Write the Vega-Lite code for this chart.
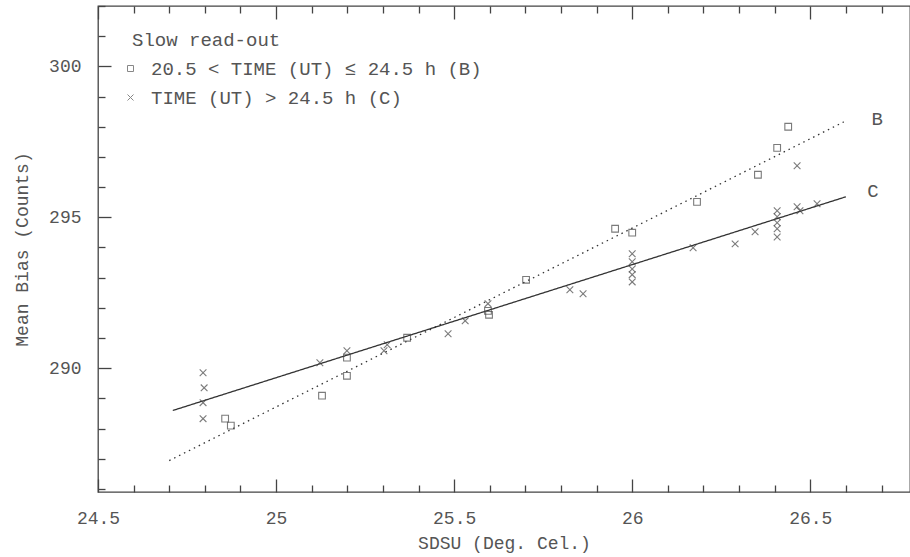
{
  "$schema": "https://vega.github.io/schema/vega-lite/v6.json",
  "width": 812,
  "height": 486,
  "autosize": "none",
  "padding": {"left": 98, "top": 6, "right": 0, "bottom": 65},
  "background": "white",
  "config": {
    "view": {"stroke": "#444", "strokeWidth": 1.3},
    "font": "Liberation Mono",
    "axis": {"labelFont": "Liberation Mono", "titleFont": "Liberation Mono", "labelColor": "#555", "titleColor": "#555", "tickColor": "#444", "tickWidth": 1.3, "grid": false, "domain": false, "titleFontWeight": "normal", "labelOverlap": false}
  },
  "datasets": {
    "pts": [
      {"series": "20.5 < TIME (UT) ≤ 24.5 h (B)", "sdsu": 24.857, "bias": 288.33},
      {"series": "20.5 < TIME (UT) ≤ 24.5 h (B)", "sdsu": 24.873, "bias": 288.10},
      {"series": "20.5 < TIME (UT) ≤ 24.5 h (B)", "sdsu": 25.129, "bias": 289.09},
      {"series": "20.5 < TIME (UT) ≤ 24.5 h (B)", "sdsu": 25.199, "bias": 290.35},
      {"series": "20.5 < TIME (UT) ≤ 24.5 h (B)", "sdsu": 25.199, "bias": 289.75},
      {"series": "20.5 < TIME (UT) ≤ 24.5 h (B)", "sdsu": 25.368, "bias": 291.01},
      {"series": "20.5 < TIME (UT) ≤ 24.5 h (B)", "sdsu": 25.595, "bias": 291.90},
      {"series": "20.5 < TIME (UT) ≤ 24.5 h (B)", "sdsu": 25.598, "bias": 291.77},
      {"series": "20.5 < TIME (UT) ≤ 24.5 h (B)", "sdsu": 25.702, "bias": 292.93},
      {"series": "20.5 < TIME (UT) ≤ 24.5 h (B)", "sdsu": 25.952, "bias": 294.62},
      {"series": "20.5 < TIME (UT) ≤ 24.5 h (B)", "sdsu": 26.0, "bias": 294.49},
      {"series": "20.5 < TIME (UT) ≤ 24.5 h (B)", "sdsu": 26.182, "bias": 295.51},
      {"series": "20.5 < TIME (UT) ≤ 24.5 h (B)", "sdsu": 26.353, "bias": 296.41},
      {"series": "20.5 < TIME (UT) ≤ 24.5 h (B)", "sdsu": 26.407, "bias": 297.30},
      {"series": "20.5 < TIME (UT) ≤ 24.5 h (B)", "sdsu": 26.438, "bias": 298.0},
      {"series": "TIME (UT) > 24.5 h (C)", "sdsu": 24.795, "bias": 289.85},
      {"series": "TIME (UT) > 24.5 h (C)", "sdsu": 24.798, "bias": 289.35},
      {"series": "TIME (UT) > 24.5 h (C)", "sdsu": 24.795, "bias": 288.86},
      {"series": "TIME (UT) > 24.5 h (C)", "sdsu": 24.795, "bias": 288.33},
      {"series": "TIME (UT) > 24.5 h (C)", "sdsu": 25.123, "bias": 290.18},
      {"series": "TIME (UT) > 24.5 h (C)", "sdsu": 25.199, "bias": 290.58},
      {"series": "TIME (UT) > 24.5 h (C)", "sdsu": 25.312, "bias": 290.78},
      {"series": "TIME (UT) > 24.5 h (C)", "sdsu": 25.303, "bias": 290.58},
      {"series": "TIME (UT) > 24.5 h (C)", "sdsu": 25.483, "bias": 291.14},
      {"series": "TIME (UT) > 24.5 h (C)", "sdsu": 25.531, "bias": 291.57},
      {"series": "TIME (UT) > 24.5 h (C)", "sdsu": 25.595, "bias": 292.14},
      {"series": "TIME (UT) > 24.5 h (C)", "sdsu": 25.825, "bias": 292.60},
      {"series": "TIME (UT) > 24.5 h (C)", "sdsu": 25.862, "bias": 292.47},
      {"series": "TIME (UT) > 24.5 h (C)", "sdsu": 26.0, "bias": 293.79},
      {"series": "TIME (UT) > 24.5 h (C)", "sdsu": 26.0, "bias": 293.53},
      {"series": "TIME (UT) > 24.5 h (C)", "sdsu": 26.0, "bias": 293.29},
      {"series": "TIME (UT) > 24.5 h (C)", "sdsu": 26.0, "bias": 293.10},
      {"series": "TIME (UT) > 24.5 h (C)", "sdsu": 26.0, "bias": 292.86},
      {"series": "TIME (UT) > 24.5 h (C)", "sdsu": 26.171, "bias": 293.99},
      {"series": "TIME (UT) > 24.5 h (C)", "sdsu": 26.289, "bias": 294.12},
      {"series": "TIME (UT) > 24.5 h (C)", "sdsu": 26.345, "bias": 294.52},
      {"series": "TIME (UT) > 24.5 h (C)", "sdsu": 26.407, "bias": 295.22},
      {"series": "TIME (UT) > 24.5 h (C)", "sdsu": 26.407, "bias": 295.02},
      {"series": "TIME (UT) > 24.5 h (C)", "sdsu": 26.407, "bias": 294.82},
      {"series": "TIME (UT) > 24.5 h (C)", "sdsu": 26.407, "bias": 294.62},
      {"series": "TIME (UT) > 24.5 h (C)", "sdsu": 26.407, "bias": 294.35},
      {"series": "TIME (UT) > 24.5 h (C)", "sdsu": 26.463, "bias": 296.71},
      {"series": "TIME (UT) > 24.5 h (C)", "sdsu": 26.463, "bias": 295.35},
      {"series": "TIME (UT) > 24.5 h (C)", "sdsu": 26.471, "bias": 295.22},
      {"series": "TIME (UT) > 24.5 h (C)", "sdsu": 26.519, "bias": 295.45}
    ],
    "fits": [
      {"fit": "B", "sdsu": 24.70, "bias": 286.94},
      {"fit": "B", "sdsu": 26.594, "bias": 298.16},
      {"fit": "C", "sdsu": 24.71, "bias": 288.6},
      {"fit": "C", "sdsu": 26.60, "bias": 295.68}
    ],
    "tags": [
      {"tag": "B", "sdsu": 26.688, "bias": 298.26},
      {"tag": "C", "sdsu": 26.676, "bias": 295.88}
    ]
  },
  "resolve": {"axis": {"x": "independent", "y": "independent"}},
  "layer": [
    {
      "data": {"name": "fits"},
      "mark": {"type": "line", "color": "#333", "strokeWidth": 1.3},
      "encoding": {
        "x": {"field": "sdsu", "type": "quantitative",
          "axis": {"orient": "bottom", "title": null, "labels": false, "tickSize": -7,
            "values": [24.6, 24.7, 24.8, 24.9, 25.1, 25.2, 25.3, 25.4, 25.6, 25.7, 25.8, 25.9, 26.1, 26.2, 26.3, 26.4, 26.6, 26.7]}},
        "y": {"field": "bias", "type": "quantitative",
          "axis": {"orient": "left", "title": null, "labels": false, "tickSize": -7,
            "values": [286, 287, 288, 289, 291, 292, 293, 294, 296, 297, 298, 299, 301, 302]}},
        "detail": {"field": "fit"},
        "strokeDash": {"field": "fit", "type": "nominal", "scale": {"domain": ["B", "C"], "range": [[1.5, 4], [1, 0]]}, "legend": null}
      }
    },
    {
      "data": {"name": "pts"},
      "mark": {"type": "point", "filled": false, "color": "#444", "strokeWidth": 1.1, "size": 45},
      "encoding": {
        "x": {"field": "sdsu", "type": "quantitative",
          "scale": {"domain": [24.5, 26.78], "nice": false, "zero": false},
          "axis": {
            "orient": "bottom",
            "title": "SDSU (Deg. Cel.)",
            "titleFontSize": 18,
            "titlePadding": 7,
            "labelFontSize": 18,
            "values": [24.5, 25, 25.5, 26, 26.5],
            "format": ".1~f",
            "labelPadding": 30,
            "labelFlush": false,
            "tickSize": -13
          }
        },
        "y": {"field": "bias", "type": "quantitative",
          "scale": {"domain": [285.9, 302.0], "nice": false, "zero": false},
          "axis": {
            "orient": "left",
            "title": "Mean Bias (Counts)",
            "titleFontSize": 18,
            "titlePadding": 17,
            "labelFontSize": 18,
            "values": [290, 295, 300],
            "format": "d",
            "labelPadding": 30,
            "tickSize": -13
          }
        },
        "shape": {
          "field": "series", "type": "nominal",
          "scale": {"domain": ["20.5 < TIME (UT) ≤ 24.5 h (B)", "TIME (UT) > 24.5 h (C)"], "range": ["square", "M-1,-1L1,1M-1,1L1,-1"]},
          "legend": {
            "title": "Slow read-out",
            "orient": "none",
            "legendX": 34,
            "legendY": 25,
            "titleFont": "Liberation Mono",
            "titleFontSize": 19,
            "titleFontWeight": "normal",
            "titleColor": "#555",
            "titlePadding": 9,
            "labelFont": "Liberation Mono",
            "labelFontSize": 19,
            "labelColor": "#555",
            "labelOffset": 11,
            "labelLimit": 600,
            "rowPadding": 9,
            "symbolSize": 36,
            "symbolOffset": -11,
            "symbolStrokeColor": "#555",
            "symbolStrokeWidth": 1,
            "symbolFillColor": "transparent"
          }
        }
      }
    },
    {
      "data": {"name": "tags"},
      "mark": {"type": "text", "fontSize": 19, "color": "#555", "font": "Liberation Mono", "align": "center", "baseline": "middle"},
      "encoding": {
        "x": {"field": "sdsu", "type": "quantitative",
          "axis": {"orient": "top", "title": null, "labels": false, "tickSize": -7,
            "values": [24.6, 24.7, 24.8, 24.9, 25.1, 25.2, 25.3, 25.4, 25.6, 25.7, 25.8, 25.9, 26.1, 26.2, 26.3, 26.4, 26.6, 26.7]}},
        "y": {"field": "bias", "type": "quantitative", "axis": null},
        "text": {"field": "tag"}
      }
    },
    {
      "data": {"name": "tags"},
      "mark": {"type": "point", "opacity": 0},
      "encoding": {
        "x": {"field": "sdsu", "type": "quantitative",
          "axis": {"orient": "top", "title": null, "labels": false, "tickSize": -13,
            "values": [24.5, 25, 25.5, 26, 26.5]}},
        "y": {"field": "bias", "type": "quantitative", "axis": null}
      }
    }
  ]
}
